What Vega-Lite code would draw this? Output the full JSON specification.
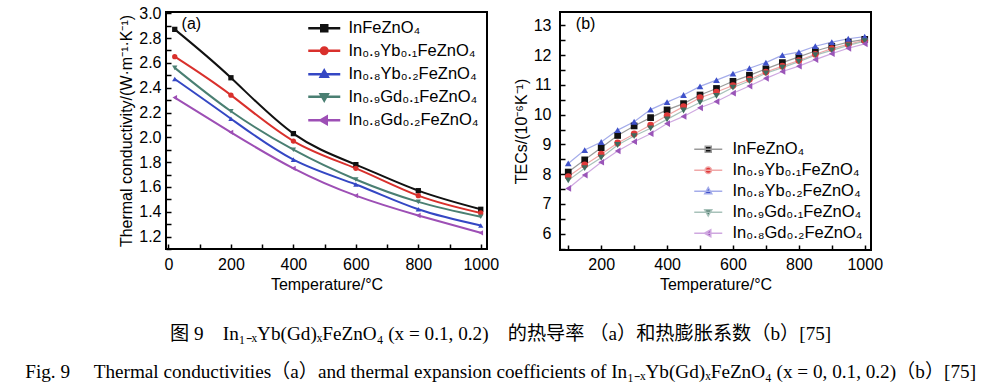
{
  "$schema": "https://vega.github.io/schema/vega-lite/v6.json",
  "background": "white",
  "padding": {"left": 25, "top": 4, "right": 5, "bottom": 5},
  "spacing": 12,
  "datasets": {
    "tc": [
      {"series": "InFeZnO₄", "T": 20, "k": 2.87}, {"series": "InFeZnO₄", "T": 200, "k": 2.48}, {"series": "InFeZnO₄", "T": 400, "k": 2.03}, {"series": "InFeZnO₄", "T": 600, "k": 1.78}, {"series": "InFeZnO₄", "T": 800, "k": 1.57}, {"series": "InFeZnO₄", "T": 1000, "k": 1.42},
      {"series": "In₀.₉Yb₀.₁FeZnO₄", "T": 20, "k": 2.65}, {"series": "In₀.₉Yb₀.₁FeZnO₄", "T": 200, "k": 2.34}, {"series": "In₀.₉Yb₀.₁FeZnO₄", "T": 400, "k": 1.97}, {"series": "In₀.₉Yb₀.₁FeZnO₄", "T": 600, "k": 1.75}, {"series": "In₀.₉Yb₀.₁FeZnO₄", "T": 800, "k": 1.53}, {"series": "In₀.₉Yb₀.₁FeZnO₄", "T": 1000, "k": 1.39},
      {"series": "In₀.₈Yb₀.₂FeZnO₄", "T": 20, "k": 2.47}, {"series": "In₀.₈Yb₀.₂FeZnO₄", "T": 200, "k": 2.15}, {"series": "In₀.₈Yb₀.₂FeZnO₄", "T": 400, "k": 1.82}, {"series": "In₀.₈Yb₀.₂FeZnO₄", "T": 600, "k": 1.62}, {"series": "In₀.₈Yb₀.₂FeZnO₄", "T": 800, "k": 1.42}, {"series": "In₀.₈Yb₀.₂FeZnO₄", "T": 1000, "k": 1.29},
      {"series": "In₀.₉Gd₀.₁FeZnO₄", "T": 20, "k": 2.56}, {"series": "In₀.₉Gd₀.₁FeZnO₄", "T": 200, "k": 2.21}, {"series": "In₀.₉Gd₀.₁FeZnO₄", "T": 400, "k": 1.90}, {"series": "In₀.₉Gd₀.₁FeZnO₄", "T": 600, "k": 1.66}, {"series": "In₀.₉Gd₀.₁FeZnO₄", "T": 800, "k": 1.48}, {"series": "In₀.₉Gd₀.₁FeZnO₄", "T": 1000, "k": 1.36},
      {"series": "In₀.₈Gd₀.₂FeZnO₄", "T": 20, "k": 2.32}, {"series": "In₀.₈Gd₀.₂FeZnO₄", "T": 200, "k": 2.04}, {"series": "In₀.₈Gd₀.₂FeZnO₄", "T": 400, "k": 1.75}, {"series": "In₀.₈Gd₀.₂FeZnO₄", "T": 600, "k": 1.53}, {"series": "In₀.₈Gd₀.₂FeZnO₄", "T": 800, "k": 1.37}, {"series": "In₀.₈Gd₀.₂FeZnO₄", "T": 1000, "k": 1.23}
    ],
    "tec": [
      {"series": "InFeZnO₄", "T": 100, "v": 8.07}, {"series": "InFeZnO₄", "T": 150, "v": 8.48}, {"series": "InFeZnO₄", "T": 200, "v": 8.89}, {"series": "InFeZnO₄", "T": 250, "v": 9.30}, {"series": "InFeZnO₄", "T": 300, "v": 9.62}, {"series": "InFeZnO₄", "T": 350, "v": 9.90}, {"series": "InFeZnO₄", "T": 400, "v": 10.16}, {"series": "InFeZnO₄", "T": 450, "v": 10.37}, {"series": "InFeZnO₄", "T": 500, "v": 10.66}, {"series": "InFeZnO₄", "T": 550, "v": 10.88}, {"series": "InFeZnO₄", "T": 600, "v": 11.12}, {"series": "InFeZnO₄", "T": 650, "v": 11.32}, {"series": "InFeZnO₄", "T": 700, "v": 11.54}, {"series": "InFeZnO₄", "T": 750, "v": 11.75}, {"series": "InFeZnO₄", "T": 800, "v": 11.94}, {"series": "InFeZnO₄", "T": 850, "v": 12.14}, {"series": "InFeZnO₄", "T": 900, "v": 12.30}, {"series": "InFeZnO₄", "T": 950, "v": 12.44}, {"series": "InFeZnO₄", "T": 1000, "v": 12.53},
      {"series": "In₀.₉Yb₀.₁FeZnO₄", "T": 100, "v": 7.92}, {"series": "In₀.₉Yb₀.₁FeZnO₄", "T": 150, "v": 8.31}, {"series": "In₀.₉Yb₀.₁FeZnO₄", "T": 200, "v": 8.67}, {"series": "In₀.₉Yb₀.₁FeZnO₄", "T": 250, "v": 9.05}, {"series": "In₀.₉Yb₀.₁FeZnO₄", "T": 300, "v": 9.35}, {"series": "In₀.₉Yb₀.₁FeZnO₄", "T": 350, "v": 9.65}, {"series": "In₀.₉Yb₀.₁FeZnO₄", "T": 400, "v": 9.97}, {"series": "In₀.₉Yb₀.₁FeZnO₄", "T": 450, "v": 10.27}, {"series": "In₀.₉Yb₀.₁FeZnO₄", "T": 500, "v": 10.57}, {"series": "In₀.₉Yb₀.₁FeZnO₄", "T": 550, "v": 10.76}, {"series": "In₀.₉Yb₀.₁FeZnO₄", "T": 600, "v": 10.98}, {"series": "In₀.₉Yb₀.₁FeZnO₄", "T": 650, "v": 11.19}, {"series": "In₀.₉Yb₀.₁FeZnO₄", "T": 700, "v": 11.43}, {"series": "In₀.₉Yb₀.₁FeZnO₄", "T": 750, "v": 11.63}, {"series": "In₀.₉Yb₀.₁FeZnO₄", "T": 800, "v": 11.82}, {"series": "In₀.₉Yb₀.₁FeZnO₄", "T": 850, "v": 12.03}, {"series": "In₀.₉Yb₀.₁FeZnO₄", "T": 900, "v": 12.22}, {"series": "In₀.₉Yb₀.₁FeZnO₄", "T": 950, "v": 12.36}, {"series": "In₀.₉Yb₀.₁FeZnO₄", "T": 1000, "v": 12.50},
      {"series": "In₀.₈Yb₀.₂FeZnO₄", "T": 100, "v": 8.36}, {"series": "In₀.₈Yb₀.₂FeZnO₄", "T": 150, "v": 8.81}, {"series": "In₀.₈Yb₀.₂FeZnO₄", "T": 200, "v": 9.08}, {"series": "In₀.₈Yb₀.₂FeZnO₄", "T": 250, "v": 9.48}, {"series": "In₀.₈Yb₀.₂FeZnO₄", "T": 300, "v": 9.76}, {"series": "In₀.₈Yb₀.₂FeZnO₄", "T": 350, "v": 10.17}, {"series": "In₀.₈Yb₀.₂FeZnO₄", "T": 400, "v": 10.42}, {"series": "In₀.₈Yb₀.₂FeZnO₄", "T": 450, "v": 10.66}, {"series": "In₀.₈Yb₀.₂FeZnO₄", "T": 500, "v": 10.95}, {"series": "In₀.₈Yb₀.₂FeZnO₄", "T": 550, "v": 11.16}, {"series": "In₀.₈Yb₀.₂FeZnO₄", "T": 600, "v": 11.38}, {"series": "In₀.₈Yb₀.₂FeZnO₄", "T": 650, "v": 11.56}, {"series": "In₀.₈Yb₀.₂FeZnO₄", "T": 700, "v": 11.75}, {"series": "In₀.₈Yb₀.₂FeZnO₄", "T": 750, "v": 12.00}, {"series": "In₀.₈Yb₀.₂FeZnO₄", "T": 800, "v": 12.10}, {"series": "In₀.₈Yb₀.₂FeZnO₄", "T": 850, "v": 12.30}, {"series": "In₀.₈Yb₀.₂FeZnO₄", "T": 900, "v": 12.44}, {"series": "In₀.₈Yb₀.₂FeZnO₄", "T": 950, "v": 12.55}, {"series": "In₀.₈Yb₀.₂FeZnO₄", "T": 1000, "v": 12.62},
      {"series": "In₀.₉Gd₀.₁FeZnO₄", "T": 100, "v": 7.79}, {"series": "In₀.₉Gd₀.₁FeZnO₄", "T": 150, "v": 8.20}, {"series": "In₀.₉Gd₀.₁FeZnO₄", "T": 200, "v": 8.55}, {"series": "In₀.₉Gd₀.₁FeZnO₄", "T": 250, "v": 8.98}, {"series": "In₀.₉Gd₀.₁FeZnO₄", "T": 300, "v": 9.28}, {"series": "In₀.₉Gd₀.₁FeZnO₄", "T": 350, "v": 9.54}, {"series": "In₀.₉Gd₀.₁FeZnO₄", "T": 400, "v": 9.84}, {"series": "In₀.₉Gd₀.₁FeZnO₄", "T": 450, "v": 10.14}, {"series": "In₀.₉Gd₀.₁FeZnO₄", "T": 500, "v": 10.41}, {"series": "In₀.₉Gd₀.₁FeZnO₄", "T": 550, "v": 10.63}, {"series": "In₀.₉Gd₀.₁FeZnO₄", "T": 600, "v": 10.91}, {"series": "In₀.₉Gd₀.₁FeZnO₄", "T": 650, "v": 11.13}, {"series": "In₀.₉Gd₀.₁FeZnO₄", "T": 700, "v": 11.39}, {"series": "In₀.₉Gd₀.₁FeZnO₄", "T": 750, "v": 11.58}, {"series": "In₀.₉Gd₀.₁FeZnO₄", "T": 800, "v": 11.78}, {"series": "In₀.₉Gd₀.₁FeZnO₄", "T": 850, "v": 12.00}, {"series": "In₀.₉Gd₀.₁FeZnO₄", "T": 900, "v": 12.16}, {"series": "In₀.₉Gd₀.₁FeZnO₄", "T": 950, "v": 12.33}, {"series": "In₀.₉Gd₀.₁FeZnO₄", "T": 1000, "v": 12.47},
      {"series": "In₀.₈Gd₀.₂FeZnO₄", "T": 100, "v": 7.52}, {"series": "In₀.₈Gd₀.₂FeZnO₄", "T": 150, "v": 7.97}, {"series": "In₀.₈Gd₀.₂FeZnO₄", "T": 200, "v": 8.40}, {"series": "In₀.₈Gd₀.₂FeZnO₄", "T": 250, "v": 8.78}, {"series": "In₀.₈Gd₀.₂FeZnO₄", "T": 300, "v": 9.09}, {"series": "In₀.₈Gd₀.₂FeZnO₄", "T": 350, "v": 9.36}, {"series": "In₀.₈Gd₀.₂FeZnO₄", "T": 400, "v": 9.70}, {"series": "In₀.₈Gd₀.₂FeZnO₄", "T": 450, "v": 9.94}, {"series": "In₀.₈Gd₀.₂FeZnO₄", "T": 500, "v": 10.23}, {"series": "In₀.₈Gd₀.₂FeZnO₄", "T": 550, "v": 10.44}, {"series": "In₀.₈Gd₀.₂FeZnO₄", "T": 600, "v": 10.72}, {"series": "In₀.₈Gd₀.₂FeZnO₄", "T": 650, "v": 10.96}, {"series": "In₀.₈Gd₀.₂FeZnO₄", "T": 700, "v": 11.22}, {"series": "In₀.₈Gd₀.₂FeZnO₄", "T": 750, "v": 11.45}, {"series": "In₀.₈Gd₀.₂FeZnO₄", "T": 800, "v": 11.63}, {"series": "In₀.₈Gd₀.₂FeZnO₄", "T": 850, "v": 11.85}, {"series": "In₀.₈Gd₀.₂FeZnO₄", "T": 900, "v": 12.05}, {"series": "In₀.₈Gd₀.₂FeZnO₄", "T": 950, "v": 12.23}, {"series": "In₀.₈Gd₀.₂FeZnO₄", "T": 1000, "v": 12.38}
    ]
  },
  "title": {
    "text": ["图 9\u2003In₁₋ₓYb(Gd)ₓFeZnO₄ (x = 0.1, 0.2)\u2003的热导率 （a）和热膨胀系数（b）[75]", "Fig. 9\u2003 Thermal conductivities（a）and thermal expansion coefficients of In₁₋ₓYb(Gd)ₓFeZnO₄ (x = 0, 0.1, 0.2)（b）[75]"],
    "orient": "bottom",
    "anchor": "middle",
    "font": "Liberation Serif, Noto Sans CJK SC",
    "fontSize": 19.2,
    "fontWeight": "normal",
    "color": "#000",
    "lineHeight": 38,
    "offset": 32
  },
  "resolve": {
    "scale": {"shape": "independent", "fill": "independent", "stroke": "independent", "x": "independent", "y": "independent"},
    "legend": {"shape": "independent", "fill": "independent", "stroke": "independent"}
  },
  "hconcat": [
    {
      "width": 321,
      "height": 237,
      "encoding": {
        "x": {"field": "T", "type": "quantitative", "scale": {"domain": [-8, 1020], "nice": false}, "axis": {"title": "Temperature/°C", "values": [0, 100, 200, 300, 400, 500, 600, 700, 800, 900, 1000], "labelExpr": "datum.value % 200 == 0 ? format(datum.value, 'd') : ''", "labelPadding": 12, "labelOverlap": false}},
        "y": {"field": "k", "type": "quantitative", "scale": {"domain": [1.1, 3.01], "nice": false, "zero": false}, "axis": {"title": "Thermal conductivity/(W·m⁻¹·K⁻¹)", "values": [1.1, 1.2, 1.3, 1.4, 1.5, 1.6, 1.7, 1.8, 1.9, 2.0, 2.1, 2.2, 2.3, 2.4, 2.5, 2.6, 2.7, 2.8, 2.9, 3.0], "labelExpr": "round(datum.value * 10) % 2 == 0 ? format(datum.value, '.1f') : ''", "labelPadding": 10, "labelOverlap": false}}
      },
      "layer": [
        {
          "data": {"name": "tc"},
          "mark": {"type": "line", "interpolate": "natural", "strokeWidth": 2},
          "encoding": {
            "stroke": {"field": "series", "type": "nominal", "scale": {"domain": ["InFeZnO₄", "In₀.₉Yb₀.₁FeZnO₄", "In₀.₈Yb₀.₂FeZnO₄", "In₀.₉Gd₀.₁FeZnO₄", "In₀.₈Gd₀.₂FeZnO₄"], "range": ["#111111", "#d9302c", "#3447c4", "#4a7f72", "#9d4fb5"]},
              "legend": {"title": null, "orient": "top-right", "offset": 8, "padding": 0, "rowPadding": 5.5, "labelOffset": 16, "labelFontSize": 16.5, "labelFont": "Liberation Sans", "labelColor": "#000", "symbolSize": 100, "symbolOpacity": 1, "symbolStrokeWidth": 2.5}}
          }
        },
        {"data": {"name": "tc"}, "transform": [{"filter": {"field": "series", "equal": "InFeZnO₄"}}], "mark": {"type": "point", "shape": "square", "filled": true, "size": 28, "opacity": 1}, "encoding": {"fill": {"field": "series", "type": "nominal", "scale": {"domain": ["InFeZnO₄", "In₀.₉Yb₀.₁FeZnO₄", "In₀.₈Yb₀.₂FeZnO₄", "In₀.₉Gd₀.₁FeZnO₄", "In₀.₈Gd₀.₂FeZnO₄"], "range": ["#111111", "#d9302c", "#3447c4", "#4a7f72", "#9d4fb5"]}, "legend": {"title": null, "orient": "top-right", "offset": 8, "padding": 0, "rowPadding": 5.5, "labelOffset": 16, "labelFontSize": 16.5, "labelFont": "Liberation Sans", "labelColor": "#000", "symbolSize": 100, "symbolOpacity": 1, "symbolStrokeWidth": 2.5}}}},
        {"data": {"name": "tc"}, "transform": [{"filter": {"field": "series", "equal": "In₀.₉Yb₀.₁FeZnO₄"}}], "mark": {"type": "point", "shape": "circle", "filled": true, "size": 28, "opacity": 1}, "encoding": {"fill": {"field": "series", "type": "nominal"}}},
        {"data": {"name": "tc"}, "transform": [{"filter": {"field": "series", "equal": "In₀.₈Yb₀.₂FeZnO₄"}}], "mark": {"type": "point", "shape": "triangle-up", "filled": true, "size": 28, "opacity": 1}, "encoding": {"fill": {"field": "series", "type": "nominal"}}},
        {"data": {"name": "tc"}, "transform": [{"filter": {"field": "series", "equal": "In₀.₉Gd₀.₁FeZnO₄"}}], "mark": {"type": "point", "shape": "triangle-down", "filled": true, "size": 28, "opacity": 1}, "encoding": {"fill": {"field": "series", "type": "nominal"}}},
        {"data": {"name": "tc"}, "transform": [{"filter": {"field": "series", "equal": "In₀.₈Gd₀.₂FeZnO₄"}}], "mark": {"type": "point", "shape": "triangle-left", "filled": true, "size": 28, "opacity": 1}, "encoding": {"fill": {"field": "series", "type": "nominal"}}},
        {
          "data": {"name": "tc"},
          "mark": {"type": "point", "filled": true, "opacity": 0},
          "encoding": {
            "shape": {"field": "series", "type": "nominal", "scale": {"domain": ["InFeZnO₄", "In₀.₉Yb₀.₁FeZnO₄", "In₀.₈Yb₀.₂FeZnO₄", "In₀.₉Gd₀.₁FeZnO₄", "In₀.₈Gd₀.₂FeZnO₄"], "range": ["M-3.2,0H3.2M-0.6,-0.6H0.6V0.6H-0.6Z", "M-3.2,0H3.2M-0.65,0A0.65,0.65 0 1,0 0.65,0A0.65,0.65 0 1,0 -0.65,0Z", "M-3.2,0H3.2M0,-0.75L0.7,0.5L-0.7,0.5Z", "M-3.2,0H3.2M0,0.75L0.7,-0.5L-0.7,-0.5Z", "M-3.2,0H3.2M-0.75,0L0.5,-0.7L0.5,0.7Z"]},
              "legend": {"title": null, "orient": "top-right", "offset": 8, "padding": 0, "rowPadding": 5.5, "labelOffset": 16, "labelFontSize": 16.5, "labelFont": "Liberation Sans", "labelColor": "#000", "symbolSize": 100, "symbolOpacity": 1, "symbolStrokeWidth": 2.5}}
          }
        },
        {
          "data": {"name": "tc"},
          "transform": [{"filter": {"field": "series", "equal": "InFeZnO₄"}}, {"filter": {"field": "T", "equal": 20}}],
          "mark": {"type": "text", "fontSize": 16, "fontWeight": "normal", "font": "Liberation Sans", "align": "left", "baseline": "middle", "color": "#000"},
          "encoding": {"x": {"datum": 42}, "y": {"datum": 2.91}, "text": {"value": "(a)"}}
        }
      ]
    },
    {
      "width": 311,
      "height": 238,
      "encoding": {
        "x": {"field": "T", "type": "quantitative", "scale": {"domain": [75, 1019], "nice": false}, "axis": {"title": "Temperature/°C", "values": [100, 200, 300, 400, 500, 600, 700, 800, 900, 1000], "labelExpr": "datum.value % 200 == 0 ? format(datum.value, 'd') : ''", "labelPadding": 11, "labelOverlap": false}},
        "y": {"field": "v", "type": "quantitative", "scale": {"domain": [5.45, 13.45], "nice": false, "zero": false}, "axis": {"title": "TECs/(10⁻⁶K⁻¹)", "values": [5.5, 6, 6.5, 7, 7.5, 8, 8.5, 9, 9.5, 10, 10.5, 11, 11.5, 12, 12.5, 13], "labelExpr": "datum.value % 1 == 0 ? format(datum.value, 'd') : ''", "labelPadding": 14, "labelOverlap": false}}
      },
      "layer": [
        {
          "data": {"name": "tec"},
          "mark": {"type": "line", "strokeWidth": 1.2},
          "encoding": {
            "stroke": {"field": "series", "type": "nominal", "scale": {"domain": ["InFeZnO₄", "In₀.₉Yb₀.₁FeZnO₄", "In₀.₈Yb₀.₂FeZnO₄", "In₀.₉Gd₀.₁FeZnO₄", "In₀.₈Gd₀.₂FeZnO₄"], "range": ["#9a9a9a", "#f0a8a8", "#a4acea", "#a8c2ba", "#cfa8e0"]},
              "legend": {"title": null, "orient": "bottom-right", "offset": 8, "padding": 0, "rowPadding": 4, "labelOffset": 16, "labelFontSize": 16.5, "labelFont": "Liberation Sans", "labelColor": "#000", "symbolSize": 100, "symbolOpacity": 1, "symbolStrokeWidth": 1.5}}
          }
        },
        {"data": {"name": "tec"}, "transform": [{"filter": {"field": "series", "equal": "InFeZnO₄"}}], "mark": {"type": "point", "shape": "square", "filled": true, "size": 45, "opacity": 1}, "encoding": {"fill": {"field": "series", "type": "nominal", "scale": {"domain": ["InFeZnO₄", "In₀.₉Yb₀.₁FeZnO₄", "In₀.₈Yb₀.₂FeZnO₄", "In₀.₉Gd₀.₁FeZnO₄", "In₀.₈Gd₀.₂FeZnO₄"], "range": ["#111111", "#e03a3a", "#3f51c9", "#3f6b5e", "#9a55b8"]}, "legend": {"title": null, "orient": "bottom-right", "offset": 8, "padding": 0, "rowPadding": 4, "labelOffset": 16, "labelFontSize": 16.5, "labelFont": "Liberation Sans", "labelColor": "#000", "symbolSize": 100, "symbolOpacity": 1, "symbolStrokeWidth": 1.5}}}},
        {"data": {"name": "tec"}, "transform": [{"filter": {"field": "series", "equal": "In₀.₉Yb₀.₁FeZnO₄"}}], "mark": {"type": "point", "shape": "circle", "filled": true, "size": 45, "opacity": 1}, "encoding": {"fill": {"field": "series", "type": "nominal"}}},
        {"data": {"name": "tec"}, "transform": [{"filter": {"field": "series", "equal": "In₀.₈Yb₀.₂FeZnO₄"}}], "mark": {"type": "point", "shape": "triangle-up", "filled": true, "size": 45, "opacity": 1}, "encoding": {"fill": {"field": "series", "type": "nominal"}}},
        {"data": {"name": "tec"}, "transform": [{"filter": {"field": "series", "equal": "In₀.₉Gd₀.₁FeZnO₄"}}], "mark": {"type": "point", "shape": "triangle-down", "filled": true, "size": 45, "opacity": 1}, "encoding": {"fill": {"field": "series", "type": "nominal"}}},
        {"data": {"name": "tec"}, "transform": [{"filter": {"field": "series", "equal": "In₀.₈Gd₀.₂FeZnO₄"}}], "mark": {"type": "point", "shape": "triangle-left", "filled": true, "size": 45, "opacity": 1}, "encoding": {"fill": {"field": "series", "type": "nominal"}}},
        {
          "data": {"name": "tec"},
          "mark": {"type": "point", "filled": true, "opacity": 0},
          "encoding": {
            "shape": {"field": "series", "type": "nominal", "scale": {"domain": ["InFeZnO₄", "In₀.₉Yb₀.₁FeZnO₄", "In₀.₈Yb₀.₂FeZnO₄", "In₀.₉Gd₀.₁FeZnO₄", "In₀.₈Gd₀.₂FeZnO₄"], "range": ["M-2.8,0H2.8M-0.6,-0.6H0.6V0.6H-0.6Z", "M-2.8,0H2.8M-0.65,0A0.65,0.65 0 1,0 0.65,0A0.65,0.65 0 1,0 -0.65,0Z", "M-2.8,0H2.8M0,-0.75L0.7,0.5L-0.7,0.5Z", "M-2.8,0H2.8M0,0.75L0.7,-0.5L-0.7,-0.5Z", "M-2.8,0H2.8M-0.75,0L0.5,-0.7L0.5,0.7Z"]},
              "legend": {"title": null, "orient": "bottom-right", "offset": 8, "padding": 0, "rowPadding": 4, "labelOffset": 16, "labelFontSize": 16.5, "labelFont": "Liberation Sans", "labelColor": "#000", "symbolSize": 100, "symbolOpacity": 1, "symbolStrokeWidth": 1.5}}
          }
        },
        {
          "data": {"name": "tec"},
          "transform": [{"filter": {"field": "series", "equal": "InFeZnO₄"}}, {"filter": {"field": "T", "equal": 100}}],
          "mark": {"type": "text", "fontSize": 16, "fontWeight": "normal", "font": "Liberation Sans", "align": "left", "baseline": "middle", "color": "#000"},
          "encoding": {"x": {"datum": 123}, "y": {"datum": 13.03}, "text": {"value": "(b)"}}
        }
      ]
    }
  ],
  "config": {
    "view": {"stroke": "#000", "strokeWidth": 2},
    "font": "Liberation Sans",
    "axis": {
      "grid": false, "domain": false, "ticks": true, "tickColor": "#000", "tickSize": -5, "tickWidth": 1.5,
      "labelFont": "Liberation Sans", "labelFontSize": 16, "labelColor": "#000", "labelFlush": false,
      "titleFont": "Liberation Sans", "titleFontSize": 16, "titleFontWeight": "normal", "titleColor": "#000", "titlePadding": 4
    }
  }
}
